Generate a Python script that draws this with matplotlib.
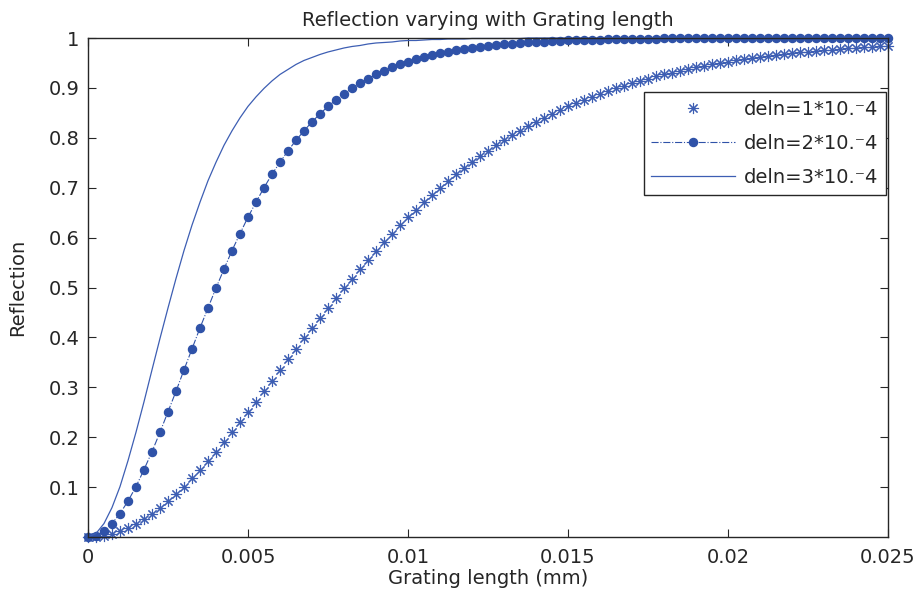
import numpy as np
import matplotlib
import matplotlib.pyplot as plt

matplotlib.use('Agg')

plt.rcParams['font.family'] = ['DejaVu Sans']

# grating length samples (mm)
grating_length = np.linspace(0, 0.025, 101)

# reflection, one list per index change
refl_deln1 = [
    0.000, 0.001, 0.003, 0.007, 0.012, 0.019, 0.027, 0.036, 0.047, 0.059,
    0.072, 0.086, 0.101, 0.118, 0.135, 0.153, 0.171, 0.190, 0.210, 0.230,
    0.251, 0.271, 0.292, 0.313, 0.335, 0.356, 0.377, 0.398, 0.419, 0.439,
    0.459, 0.479, 0.499, 0.518, 0.537, 0.556, 0.574, 0.591, 0.608, 0.625,
    0.641, 0.656, 0.671, 0.686, 0.700, 0.714, 0.727, 0.739, 0.751, 0.763,
    0.774, 0.785, 0.795, 0.805, 0.814, 0.823, 0.832, 0.840, 0.848, 0.856,
    0.863, 0.870, 0.876, 0.882, 0.888, 0.894, 0.899, 0.904, 0.909, 0.914,
    0.918, 0.923, 0.927, 0.930, 0.934, 0.937, 0.941, 0.944, 0.947, 0.949,
    0.952, 0.955, 0.957, 0.959, 0.961, 0.963, 0.965, 0.967, 0.969, 0.971,
    0.972, 0.974, 0.975, 0.976, 0.978, 0.979, 0.980, 0.981, 0.982, 0.983,
    0.984,
]
refl_deln2 = [
    0.000, 0.003, 0.012, 0.027, 0.047, 0.072, 0.101, 0.135, 0.171, 0.210,
    0.251, 0.292, 0.335, 0.377, 0.419, 0.459, 0.499, 0.537, 0.574, 0.608,
    0.641, 0.671, 0.700, 0.727, 0.751, 0.774, 0.795, 0.814, 0.832, 0.848,
    0.863, 0.876, 0.888, 0.899, 0.909, 0.918, 0.927, 0.934, 0.941, 0.947,
    0.952, 0.957, 0.961, 0.965, 0.969, 0.972, 0.975, 0.978, 0.980, 0.982,
    0.984, 0.985, 0.987, 0.988, 0.990, 0.991, 0.992, 0.992, 0.993, 0.994,
    0.995, 0.995, 0.996, 0.996, 0.996, 0.997, 0.997, 0.997, 0.998, 0.998,
    0.998, 0.998, 0.999, 0.999, 0.999, 0.999, 0.999, 0.999, 0.999, 0.999,
    0.999, 0.999, 1.000, 1.000, 1.000, 1.000, 1.000, 1.000, 1.000, 1.000,
    1.000, 1.000, 1.000, 1.000, 1.000, 1.000, 1.000, 1.000, 1.000, 1.000,
    1.000,
]
refl_deln3 = [
    0.000, 0.007, 0.027, 0.059, 0.101, 0.153, 0.210, 0.271, 0.335, 0.398,
    0.459, 0.518, 0.574, 0.625, 0.671, 0.714, 0.751, 0.785, 0.814, 0.840,
    0.863, 0.882, 0.899, 0.914, 0.927, 0.937, 0.947, 0.955, 0.961, 0.967,
    0.972, 0.976, 0.980, 0.983, 0.985, 0.988, 0.990, 0.991, 0.992, 0.994,
    0.995, 0.995, 0.996, 0.997, 0.997, 0.998, 0.998, 0.998, 0.999, 0.999,
    0.999, 0.999, 0.999, 0.999, 0.999, 1.000, 1.000, 1.000, 1.000, 1.000,
    1.000, 1.000, 1.000, 1.000, 1.000, 1.000, 1.000, 1.000, 1.000, 1.000,
    1.000, 1.000, 1.000, 1.000, 1.000, 1.000, 1.000, 1.000, 1.000, 1.000,
    1.000, 1.000, 1.000, 1.000, 1.000, 1.000, 1.000, 1.000, 1.000, 1.000,
    1.000, 1.000, 1.000, 1.000, 1.000, 1.000, 1.000, 1.000, 1.000, 1.000,
    1.000,
]
series_labels = ['deln=1*10.\u207b4', 'deln=2*10.\u207b4', 'deln=3*10.\u207b4']

x_ticks = [0, 0.005, 0.01, 0.015, 0.02, 0.025]
x_tick_labels = ['0', '0.005', '0.01', '0.015', '0.02', '0.025']
y_ticks = [0.1, 0.2, 0.3, 0.4, 0.5, 0.6, 0.7, 0.8, 0.9, 1.0]
y_tick_labels = ['0.1', '0.2', '0.3', '0.4', '0.5', '0.6', '0.7', '0.8', '0.9', '1']

blue = '#2f52a8'
star_blue = '#3d5eb3'
dark = '#262626'
fs = 14

fig = plt.figure(figsize=(9.19, 5.94), dpi=100)
ax = fig.add_axes([88 / 919, 57 / 594, 800 / 919, 499 / 594])

ax.plot(grating_length, refl_deln1, linestyle='none', marker=(8, 2, 0),
        markersize=8, markeredgewidth=0.8, color=star_blue, clip_on=False,
        label=series_labels[0])
ax.plot(grating_length, refl_deln2, linestyle='-.', linewidth=0.8, marker='o',
        markersize=5.8, color=blue, clip_on=False, label=series_labels[1])
ax.plot(grating_length, refl_deln3, linestyle='-', linewidth=0.9,
        color=star_blue, clip_on=False, label=series_labels[2])

ax.set_xlim(0, 0.025)
ax.set_ylim(0, 1)
ax.set_xticks(x_ticks)
ax.set_xticklabels(x_tick_labels)
ax.set_yticks(y_ticks)
ax.set_yticklabels(y_tick_labels)
ax.tick_params(direction='in', top=True, right=True, length=5.5, width=0.8,
               colors=dark, labelsize=fs)
ax.tick_params(axis='x', pad=8)
ax.tick_params(axis='y', pad=6)
for spine in ax.spines.values():
    spine.set_linewidth(1.0)
    spine.set_color(dark)

ax.set_title('Reflection varying with Grating length', fontsize=fs,
             color=dark, pad=9)
ax.set_xlabel('Grating length (mm)', fontsize=fs, color=dark)
ax.set_ylabel('Reflection', fontsize=fs, color=dark)
ax.xaxis.set_label_coords(0.5, -0.064)
ax.yaxis.set_label_coords(-0.076, 0.5)

leg = ax.legend(loc='upper right', bbox_to_anchor=(886 / 919, 1 - 92 / 594),
                bbox_transform=fig.transFigure, borderaxespad=0,
                fancybox=False, edgecolor=dark, framealpha=1, fontsize=fs,
                handlelength=4.3, handletextpad=0.46, labelspacing=0.78,
                borderpad=0.4)
leg.get_frame().set_linewidth(1.0)
for txt in leg.get_texts():
    txt.set_color(dark)

fig.savefig('out.png', dpi=100)
